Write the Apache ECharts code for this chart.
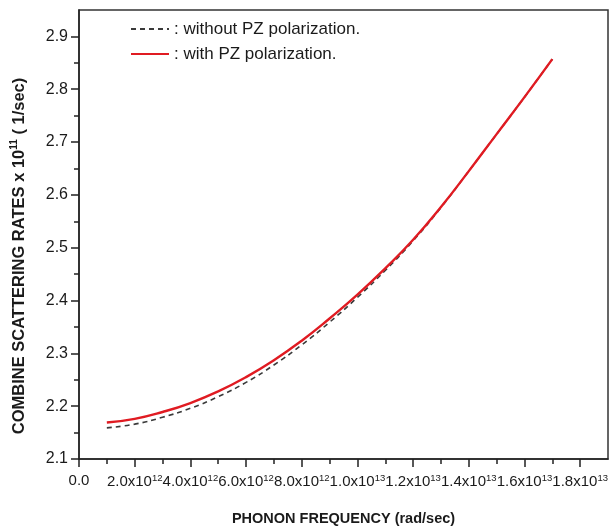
<!DOCTYPE html>
<html>
<head>
<meta charset="utf-8">
<script src="https://cdn.jsdelivr.net/npm/echarts@6/dist/echarts.min.js"></script>
<style>
html,body{margin:0;padding:0;background:#fff;}
#chart{width:610px;height:526px;}
</style>
</head>
<body>
<div id="chart"></div>
<script>
// Phonon frequency (rad/sec)
var frequencies = [1e12, 2e12, 3e12, 4e12, 5e12, 6e12, 7e12, 8e12, 9e12, 1e13, 1.1e13, 1.2e13, 1.3e13, 1.4e13, 1.5e13, 1.6e13, 1.7e13];
// Combine scattering rates x 10^11 (1/sec)
var withoutPZ = [2.159, 2.166, 2.179, 2.196, 2.218, 2.245, 2.278, 2.316, 2.359, 2.406, 2.457, 2.513, 2.576, 2.645, 2.715, 2.785, 2.857];
var withPZ    = [2.169, 2.176, 2.189, 2.206, 2.228, 2.255, 2.287, 2.324, 2.366, 2.411, 2.461, 2.515, 2.577, 2.645, 2.715, 2.785, 2.857];
var seriesNames = ['without PZ polarization.', 'with PZ polarization.'];

var xMajorTicks = [0, 2e12, 4e12, 6e12, 8e12, 1e13, 1.2e13, 1.4e13, 1.6e13, 1.8e13];
var xTickLabels = ['0.0', '2.0x10^12', '4.0x10^12', '6.0x10^12', '8.0x10^12', '1.0x10^13', '1.2x10^13', '1.4x10^13', '1.6x10^13', '1.8x10^13'];
var xMinorTicks = [1e12, 3e12, 5e12, 7e12, 9e12, 1.1e13, 1.3e13, 1.5e13, 1.7e13];
var yMajorTicks = [2.1, 2.2, 2.3, 2.4, 2.5, 2.6, 2.7, 2.8, 2.9];
var yTickLabels = ['2.1', '2.2', '2.3', '2.4', '2.5', '2.6', '2.7', '2.8', '2.9'];
var yMinorTicks = [2.15, 2.25, 2.35, 2.45, 2.55, 2.65, 2.75, 2.85];

var xTitle = 'PHONON FREQUENCY (rad/sec)';
var yTitle = 'COMBINE SCATTERING RATES x 10{s|11} ( 1/sec)';

function pairs(xs, ys) { return xs.map(function (x, i) { return [x, ys[i]]; }); }
function fmtX(v) {
  for (var i = 0; i < xMajorTicks.length; i++) {
    if (Math.abs(xMajorTicks[i] - v) < 1e9) return xTickLabels[i].replace(/\^(\d+)/, '{s|$1}');
  }
  return '';
}
function fmtY(v) {
  for (var i = 0; i < yMajorTicks.length; i++) {
    if (Math.abs(yMajorTicks[i] - v) < 1e-6) return yTickLabels[i];
  }
  return '';
}

var FONT = 'Liberation Sans, Arial, sans-serif';
var chart = echarts.init(document.getElementById('chart'), null, {renderer: 'canvas'});
var axisLineStyle = {color: '#222', width: 1.5};

chart.setOption({
  animation: false,
  backgroundColor: '#fff',
  grid: {left: 79, right: 2, top: 10, bottom: 67, outerBoundsMode: 'none', containLabel: false,
    show: true, borderColor: '#333', borderWidth: 1.5, backgroundColor: 'transparent'},
  legend: {
    orient: 'vertical', left: 130, top: 19, padding: 0, itemWidth: 38, itemHeight: 14, itemGap: 5,
    data: seriesNames,
    itemStyle: {opacity: 0, borderWidth: 0},
    formatter: function (n) { return ': ' + n; },
    textStyle: {fontFamily: FONT, fontSize: 17, color: '#1a1a1a', lineHeight: 20}
  },
  xAxis: [{
    type: 'value', min: 0, max: 1.9e13, interval: 2e12, position: 'bottom',
    axisLine: {show: true, lineStyle: axisLineStyle},
    axisTick: {show: true, length: 8, customValues: xMajorTicks, lineStyle: {color: '#222', width: 1.5}},
    axisLabel: {customValues: xMajorTicks, formatter: fmtX, margin: 14, showMaxLabel: true, showMinLabel: true, hideOverlap: false,
      fontFamily: FONT, fontSize: 15, color: '#1a1a1a',
      rich: {s: {fontFamily: FONT, fontSize: 9.5, color: '#1a1a1a', padding: [0, 0, 8, 0]}}},
    splitLine: {show: false},
    name: xTitle, nameLocation: 'middle', nameGap: 52,
    nameTextStyle: {fontFamily: FONT, fontSize: 14.5, fontWeight: 'bold', color: '#1a1a1a'}
  }, {
    type: 'value', min: 0, max: 1.9e13, interval: 1e12, position: 'bottom', gridIndex: 0,
    axisLine: {show: false},
    axisTick: {show: true, length: 5, customValues: xMinorTicks, lineStyle: {color: '#222', width: 1.5}},
    axisLabel: {show: false},
    splitLine: {show: false}
  }],
  yAxis: [{
    type: 'value', min: 2.1, max: 2.95, interval: 0.1, position: 'left',
    axisLine: {show: true, lineStyle: axisLineStyle},
    axisTick: {show: true, length: 8, customValues: yMajorTicks, lineStyle: {color: '#222', width: 1.5}},
    axisLabel: {customValues: yMajorTicks, formatter: fmtY, margin: 11, fontFamily: FONT, fontSize: 16, color: '#1a1a1a'},
    splitLine: {show: false}
  }, {
    type: 'value', min: 2.1, max: 2.95, interval: 0.05, position: 'left', gridIndex: 0,
    axisLine: {show: false},
    axisTick: {show: true, length: 5, customValues: yMinorTicks, lineStyle: {color: '#222', width: 1.5}},
    axisLabel: {show: false},
    splitLine: {show: false}
  }],
  graphic: [{
    type: 'text', x: 19, y: 256, rotation: Math.PI / 2,
    style: {
      text: yTitle, font: 'bold 16.5px ' + FONT, fill: '#1a1a1a', align: 'center', verticalAlign: 'middle',
      rich: {s: {font: 'bold 10px ' + FONT, fill: '#1a1a1a', padding: [0, 0, 9, 0]}}
    }
  }],
  series: [{
    name: seriesNames[0], type: 'line', xAxisIndex: 0, yAxisIndex: 0,
    data: pairs(frequencies, withoutPZ), smooth: true, symbol: 'none', z: 2,
    lineStyle: {color: '#3a3a3a', width: 1.6, type: [5, 4]}, itemStyle: {color: '#3a3a3a'}
  }, {
    name: seriesNames[1], type: 'line', xAxisIndex: 0, yAxisIndex: 0,
    data: pairs(frequencies, withPZ), smooth: true, symbol: 'none', z: 3,
    lineStyle: {color: '#e01b22', width: 2.4}, itemStyle: {color: '#e01b22'}
  }]
});
</script>
</body>
</html>
